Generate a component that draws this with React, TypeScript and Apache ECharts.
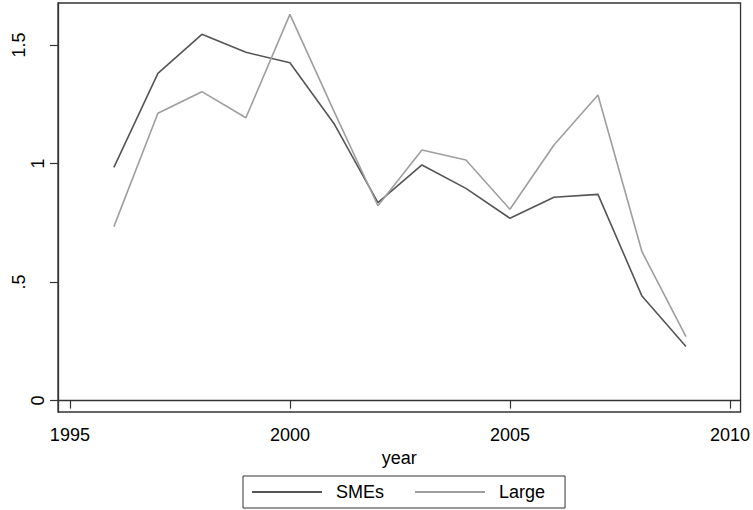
import React, { useEffect, useRef } from "react";
import * as echarts from "echarts";

const years = [1996, 1997, 1998, 1999, 2000, 2001, 2002, 2003, 2004, 2005, 2006, 2007, 2008, 2009];
const smes = [0.984, 1.38, 1.545, 1.469, 1.425, 1.169, 0.835, 0.994, 0.895, 0.769, 0.858, 0.87, 0.441, 0.228];
const large = [0.734, 1.212, 1.303, 1.193, 1.629, 1.221, 0.822, 1.057, 1.015, 0.807, 1.078, 1.289, 0.628, 0.27];
const xTicks = [1995, 2000, 2005, 2010];
const yTicks = [0, 0.5, 1, 1.5];
const yTickLabels = ["0", ".5", "1", "1.5"];
const yLabelsNear = [0, 1];
const yLabelsFar = [0.5, 1.5];

const FONT = "'Liberation Sans', Arial, Helvetica, sans-serif";

export default function App() {
  const ref = useRef<HTMLDivElement>(null);
  useEffect(() => {
    if (!ref.current) return;
    const chart = echarts.init(ref.current, null, { renderer: "svg" });
    const fmtY = (v: number) => {
      const i = yTicks.indexOf(v);
      return i >= 0 ? yTickLabels[i] : String(v);
    };
    const yBase = {
      type: "value" as const,
      min: -0.048,
      max: 1.677,
      position: "left" as const,
      splitLine: { show: false },
    };
    chart.setOption({
      animation: false,
      backgroundColor: "#ffffff",
      textStyle: { fontFamily: FONT },
      grid: {
        left: 58,
        right: 10,
        top: 3,
        bottom: 98,
        show: true,
        borderColor: "#333333",
        borderWidth: 1.3,
        backgroundColor: "#ffffff",
      },
      legend: {
        left: 243,
        top: 476,
        orient: "horizontal",
        itemWidth: 70,
        itemHeight: 2,
        itemGap: 31,
        padding: [7, 20, 7, 9],
        borderColor: "#333333",
        borderWidth: 1,
        backgroundColor: "#ffffff",
        textStyle: { fontSize: 18, color: "#000", fontFamily: FONT, padding: [0, 0, 0, 9] },
        data: [
          { name: "SMEs", icon: "rect" },
          { name: "Large", icon: "rect" },
        ],
      },
      xAxis: {
        type: "value",
        min: 1994.73,
        max: 2010.24,
        name: "year",
        nameLocation: "middle",
        nameGap: 31,
        nameTextStyle: { fontSize: 18, color: "#000", fontFamily: FONT },
        axisLine: { show: true, lineStyle: { color: "#333333", width: 1.3 } },
        axisTick: { show: true, length: 8, lineStyle: { color: "#333333", width: 1.2 }, customValues: xTicks },
        axisLabel: {
          show: true,
          fontSize: 18,
          color: "#000",
          margin: 14,
          fontFamily: FONT,
          customValues: xTicks,
          formatter: (v: number) => String(v),
        },
        splitLine: { show: false },
      },
      yAxis: [
        {
          ...yBase,
          axisLine: { show: true, lineStyle: { color: "#333333", width: 1.3 } },
          axisTick: { show: true, length: 8, lineStyle: { color: "#333333", width: 1.2 }, customValues: yTicks },
          axisLabel: {
            show: true,
            rotate: 90,
            fontSize: 18,
            color: "#000",
            margin: 11,
            fontFamily: FONT,
            customValues: yLabelsNear,
            formatter: fmtY,
          },
        },
        {
          ...yBase,
          axisLine: { show: false },
          axisTick: { show: false },
          axisLabel: {
            show: true,
            rotate: 90,
            fontSize: 18,
            color: "#000",
            margin: 30,
            fontFamily: FONT,
            customValues: yLabelsFar,
            formatter: fmtY,
          },
        },
      ],
      series: [
        {
          name: "SMEs",
          type: "line",
          yAxisIndex: 0,
          data: years.map((y, i) => [y, smes[i]]),
          symbol: "none",
          lineStyle: { color: "#555555", width: 1.6 },
          itemStyle: { color: "#555555" },
        },
        {
          name: "Large",
          type: "line",
          yAxisIndex: 0,
          data: years.map((y, i) => [y, large[i]]),
          symbol: "none",
          lineStyle: { color: "#9e9e9e", width: 1.6 },
          itemStyle: { color: "#9e9e9e" },
        },
      ],
    });
    return () => chart.dispose();
  }, []);
  return (
    <div
      ref={ref}
      style={{ position: "absolute", left: 0, top: 0, width: 753, height: 510, background: "#fff" }}
    />
  );
}
